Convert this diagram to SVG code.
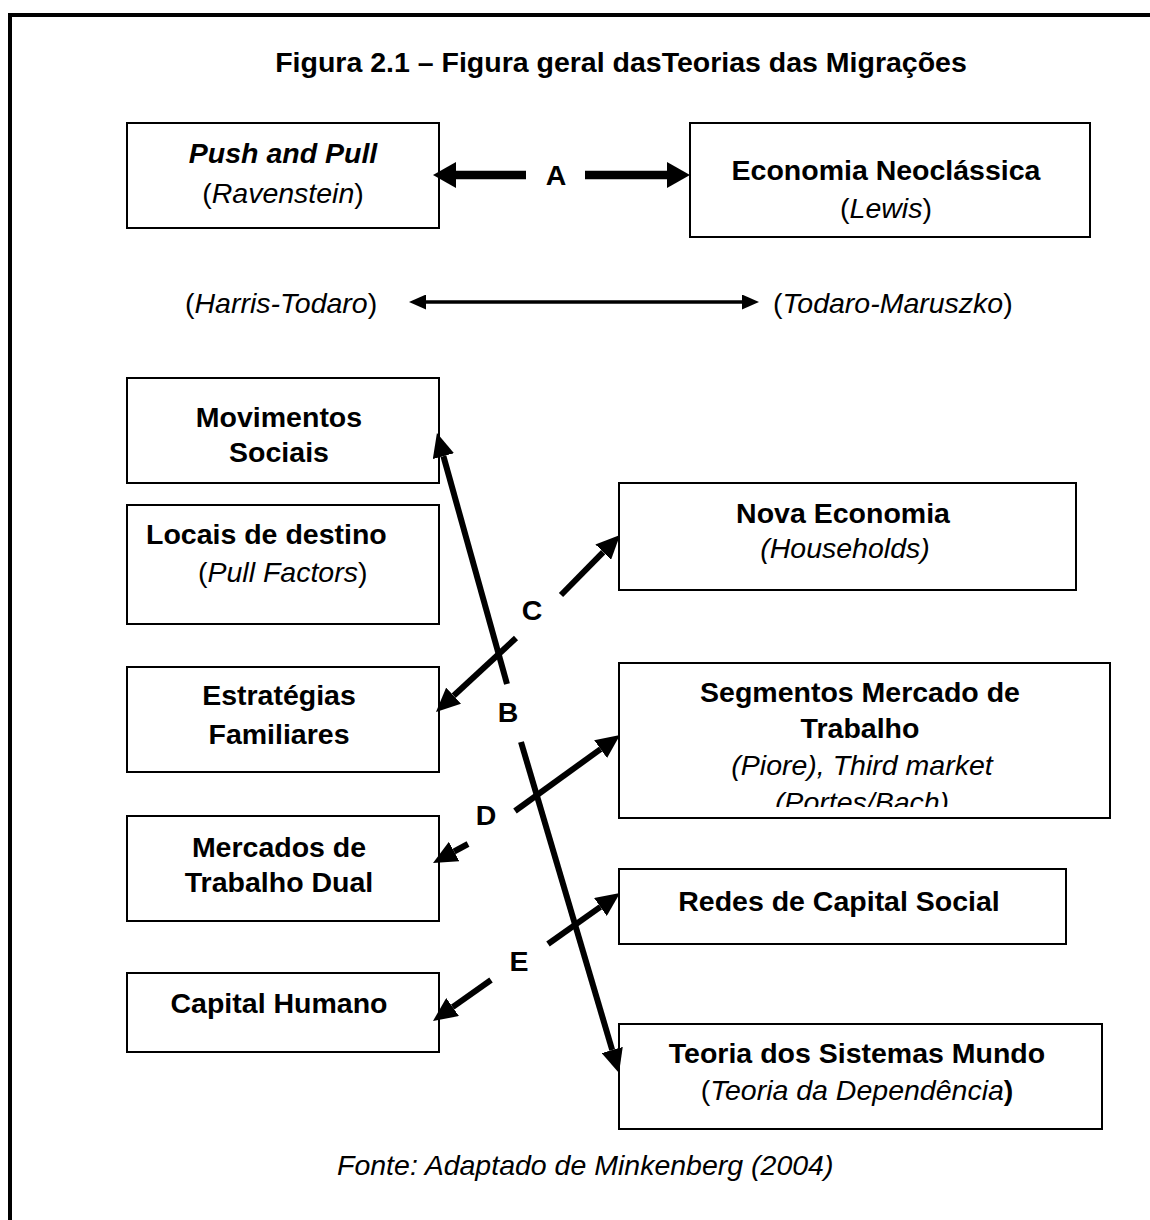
<svg xmlns="http://www.w3.org/2000/svg" width="1150" height="1220" viewBox="0 0 1150 1220">
<style>
text{font-family:"Liberation Sans",Arial,sans-serif;font-size:28.5px;fill:#000}
.b{font-weight:bold}
.i{font-style:italic}
.c{text-anchor:middle}
.box{fill:#fff;stroke:#000;stroke-width:2}
.frame{stroke:#000;stroke-width:4;fill:none}
.thick{stroke:#000;stroke-width:8.5;fill:none}
.diag{stroke:#000;stroke-width:6;fill:none}
.thin{stroke:#000;stroke-width:3.5;fill:none}
</style>
<defs>
<marker id="hA" markerUnits="userSpaceOnUse" viewBox="0 0 23 26" refX="0" refY="13" markerWidth="23" markerHeight="26" orient="auto"><path d="M0,0 L23,13 L0,26 z" fill="#000"/></marker>
<marker id="hD" markerUnits="userSpaceOnUse" viewBox="0 0 24 22" refX="0" refY="11" markerWidth="24" markerHeight="22" orient="auto"><path d="M0,0 L24,11 L0,22 z" fill="#000"/></marker>
<marker id="hT" markerUnits="userSpaceOnUse" viewBox="0 0 17 15" refX="0" refY="7.5" markerWidth="17" markerHeight="15" orient="auto-start-reverse"><path d="M0,0 L17,7.5 L0,15 z" fill="#000"/></marker>
<clipPath id="clipSeg"><rect x="620" y="664" width="490" height="143"/></clipPath>
</defs>
<g id="frame">
<line class="frame" x1="10" y1="13" x2="10" y2="1220"/>
<line class="frame" x1="8" y1="15" x2="1150" y2="15"/>
</g>
<g id="title"><text class="b c" x="621" y="72">Figura 2.1 – Figura geral dasTeorias das Migrações</text></g>
<g id="push-pull">
<rect class="box" x="127" y="123" width="312" height="105"/>
<text class="b i c" x="283" y="163">Push and Pull</text>
<text class="c" x="283" y="203">(<tspan class="i">Ravenstein</tspan>)</text>
</g>
<g id="economia-neoclassica">
<rect class="box" x="690" y="123" width="400" height="114"/>
<text class="b c" x="886" y="180">Economia Neoclássica</text>
<text class="c" x="886" y="218">(<tspan class="i">Lewis</tspan>)</text>
</g>
<g id="harris-todaro"><text x="185" y="313">(<tspan class="i">Harris-Todaro</tspan>)</text></g>
<g id="todaro-maruszko"><text x="773" y="313">(<tspan class="i">Todaro-Maruszko</tspan>)</text></g>
<g id="movimentos-sociais">
<rect class="box" x="127" y="378" width="312" height="105"/>
<text class="b c" x="279" y="427">Movimentos</text>
<text class="b c" x="279" y="462">Sociais</text>
</g>
<g id="locais-destino">
<rect class="box" x="127" y="505" width="312" height="119"/>
<text class="b" x="146" y="544">Locais de destino</text>
<text x="198" y="582">(<tspan class="i">Pull Factors</tspan>)</text>
</g>
<g id="estrategias-familiares">
<rect class="box" x="127" y="667" width="312" height="105"/>
<text class="b c" x="279" y="705">Estratégias</text>
<text class="b c" x="279" y="744">Familiares</text>
</g>
<g id="mercados-dual">
<rect class="box" x="127" y="816" width="312" height="105"/>
<text class="b c" x="279" y="857">Mercados de</text>
<text class="b c" x="279" y="892">Trabalho Dual</text>
</g>
<g id="capital-humano">
<rect class="box" x="127" y="973" width="312" height="79"/>
<text class="b c" x="279" y="1013">Capital Humano</text>
</g>
<g id="nova-economia">
<rect class="box" x="619" y="483" width="457" height="107"/>
<text class="b c" x="843" y="523">Nova Economia</text>
<text class="i c" x="845" y="558">(Households)</text>
</g>
<g id="segmentos-mercado">
<rect class="box" x="619" y="663" width="491" height="155"/>
<text class="b c" x="860" y="702">Segmentos Mercado de</text>
<text class="b c" x="860" y="738">Trabalho</text>
<text class="i c" x="862" y="775">(Piore), Third market</text>
<text class="i c" x="862" y="812" clip-path="url(#clipSeg)">(Portes/Bach)</text>
</g>
<g id="redes-capital">
<rect class="box" x="619" y="869" width="447" height="75"/>
<text class="b c" x="839" y="911">Redes de Capital Social</text>
</g>
<g id="teoria-sistemas">
<rect class="box" x="619" y="1024" width="483" height="105"/>
<text class="b c" x="857" y="1063">Teoria dos Sistemas Mundo</text>
<text class="c" x="857" y="1100">(<tspan class="i">Teoria da Dependência</tspan><tspan class="b">)</tspan></text>
</g>
<g id="connectors">
<line class="thick" x1="526" y1="175" x2="456" y2="175" marker-end="url(#hA)"/>
<line class="thick" x1="585" y1="175" x2="667" y2="175" marker-end="url(#hA)"/>
<line class="thin" x1="426" y1="302" x2="742" y2="302" marker-start="url(#hT)" marker-end="url(#hT)"/>
<line class="diag" x1="507" y1="684" x2="443.4" y2="456.1" marker-end="url(#hD)"/>
<line class="diag" x1="521" y1="742" x2="612.2" y2="1050" marker-end="url(#hD)"/>
<line class="diag" x1="561" y1="595" x2="603.2" y2="552.1" marker-end="url(#hD)"/>
<line class="diag" x1="516" y1="638" x2="453.6" y2="695.7" marker-end="url(#hD)"/>
<line class="diag" x1="515" y1="811" x2="600.6" y2="749.1" marker-end="url(#hD)"/>
<line class="diag" x1="468" y1="844" x2="454.1" y2="851.5" marker-end="url(#hD)"/>
<line class="diag" x1="548" y1="944" x2="600.4" y2="906.9" marker-end="url(#hD)"/>
<line class="diag" x1="491" y1="980" x2="452.6" y2="1007.1" marker-end="url(#hD)"/>
</g>
<g id="labels">
<text class="b c" x="556" y="185">A</text>
<text class="b c" x="508" y="722">B</text>
<text class="b c" x="532" y="620">C</text>
<text class="b c" x="486" y="825">D</text>
<text class="b c" x="519" y="971">E</text>
</g>
<g id="source"><text class="i" x="337" y="1175">Fonte: Adaptado de Minkenberg (2004)</text></g>
</svg>
